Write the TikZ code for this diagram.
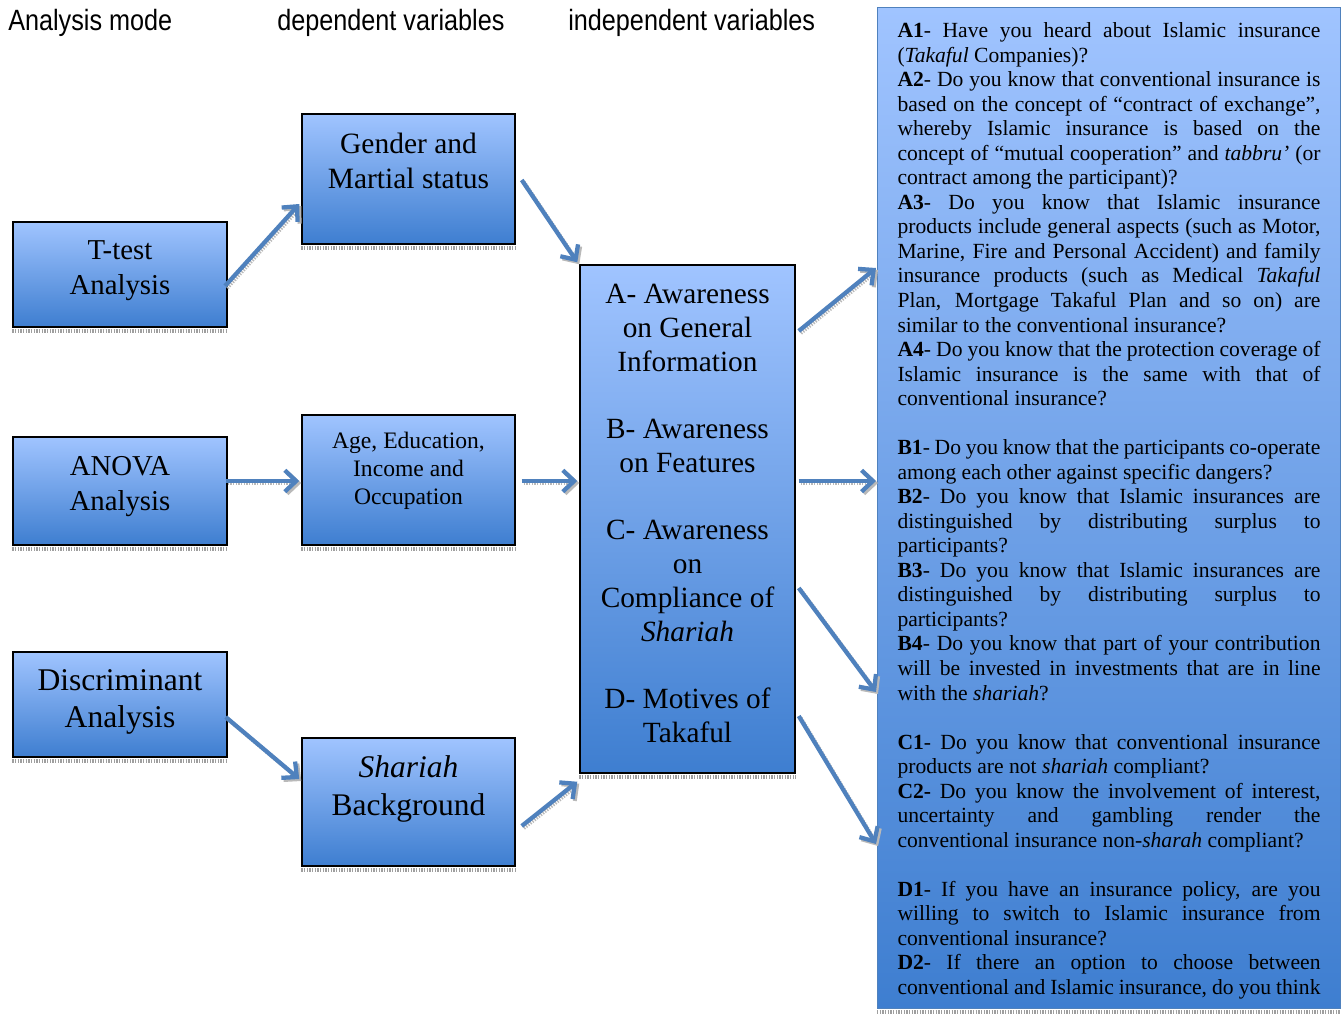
\documentclass[tikz,border=0pt]{standalone}
\usepackage{fontspec}
\setmainfont{Liberation Serif}
\newfontfamily\headfont{Liberation Sans}[FakeStretch=0.86]
\definecolor{BoxTop}{HTML}{A0C4FF}
\definecolor{BoxBottom}{HTML}{3E7ED0}
\definecolor{ArrowBlue}{HTML}{4F81BD}
\usetikzlibrary{arrows.meta}

\begin{document}
\begin{tikzpicture}[
  x=0.75pt, y=-0.75pt,
  head/.style={font=\headfont\fontsize{22}{26}\selectfont, anchor=base west, inner sep=0pt},
  bluebox/.style={
    rectangle, draw=black, line width=1.1pt,
    top color=BoxTop, bottom color=BoxBottom,
    align=center, inner sep=0pt
  },
  modebox/.style={bluebox, minimum width=160.5pt, minimum height=79pt},
  depbox/.style={bluebox, minimum width=159.75pt, minimum height=97.5pt},
  indbox/.style={bluebox, minimum width=161.25pt, minimum height=381pt},
  lift/.style={execute at begin node=\strut, execute at end node={\rule[-#1]{0pt}{0pt}}},
  infobox/.style={
    rectangle, draw=ArrowBlue, line width=0.8pt,
    top color=BoxTop, bottom color=BoxBottom,
    anchor=north west, text width=317.25pt, align=justify,
    inner xsep=15pt, inner ysep=7pt, minimum height=750.75pt,
    font=\fontsize{16.2}{18.4}\selectfont,
    execute at begin node={\parindent=0pt\tolerance=10000\hbadness=10000\hyphenpenalty=10000\rule{0pt}{15.5pt}}
  },
  boxshadow/.style={draw=gray!75, line width=3pt, dash pattern=on 1pt off 1pt},
  arr/.style={
    draw=ArrowBlue, line width=3.2pt, -{Straight Barb[length=8.5pt, width=16pt]},
    preaction={draw=gray!55, line width=3pt, dash pattern=on 1pt off 1pt,
      transform canvas={shift={(1.5pt,-1.5pt)}}}
  },
]
\useasboundingbox (0,0) rectangle (1341,1013);

% column heads
\node[head] (hmode) at (8,31) {Analysis mode};
\node[head] (hdep)  at (277,31) {dependent variables};
\node[head] (hind)  at (568,31) {independent variables};

% analysis mode
\node[modebox, font=\fontsize{21.6}{26.25}\selectfont, lift=10.4pt] (ttest) at (120,274.5) {T-test\\Analysis};
\node[modebox, minimum height=81pt, font=\fontsize{21.6}{26.25}\selectfont, lift=10.8pt] (anova) at (120,491) {ANOVA\\Analysis};
\node[modebox, font=\fontsize{23.7}{27.75}\selectfont, lift=7pt] (disc) at (120,704.5) {Discriminant\\Analysis};

% dependent variables
\node[depbox, font=\fontsize{22.1}{26.25}\selectfont, lift=27pt] (gender) at (408.5,179) {Gender and\\Martial status};
\node[depbox, font=\fontsize{17.7}{21}\selectfont, lift=17.1pt] (age) at (408.5,480) {Age, Education,\\Income and\\Occupation};
\node[depbox, minimum height=96pt, font=\fontsize{23.6}{28.5}\selectfont, lift=24.1pt] (shariah) at (408.5,802) {\textit{Shariah}\\Background};

% independent variables
\node[indbox, font=\fontsize{22}{25.3}\selectfont, lift=8.4pt] (aware) at (687.5,519)
  {A- Awareness\\on General\\Information\\[25.3pt]B- Awareness\\on Features\\[25.3pt]C- Awareness\\on\\Compliance of\\\textit{Shariah}\\[25.3pt]D- Motives of\\Takaful};

% questions
\node[infobox] (quest) at (877,7) {%
\textbf{A1}- Have you heard about Islamic insurance\linebreak
(\textit{Takaful} Companies)?\par
\textbf{A2}- Do you know that conventional insurance is\linebreak
based on the concept of “contract of exchange”,\linebreak
whereby Islamic insurance is based on the\linebreak
concept of “mutual cooperation” and \textit{tabbru’} (or\linebreak
contract among the participant)?\par
\textbf{A3}- Do you know that Islamic insurance\linebreak
products include general aspects (such as Motor,\linebreak
Marine, Fire and Personal Accident) and family\linebreak
insurance products (such as Medical \textit{Takaful}\linebreak
Plan, Mortgage Takaful Plan and so on) are\linebreak
similar to the conventional insurance?\par
\textbf{A4}- Do you know that the protection coverage of\linebreak
Islamic insurance is the same with that of\linebreak
conventional insurance?\par
\vspace{\baselineskip}
\textbf{B1}- Do you know that the participants co-operate\linebreak
among each other against specific dangers?\par
\textbf{B2}- Do you know that Islamic insurances are\linebreak
distinguished by distributing surplus to\linebreak
participants?\par
\textbf{B3}- Do you know that Islamic insurances are\linebreak
distinguished by distributing surplus to\linebreak
participants?\par
\textbf{B4}- Do you know that part of your contribution\linebreak
will be invested in investments that are in line\linebreak
with the \textit{shariah}?\par
\vspace{\baselineskip}
\textbf{C1}- Do you know that conventional insurance\linebreak
products are not \textit{shariah} compliant?\par
\textbf{C2-} Do you know the involvement of interest,\linebreak
uncertainty and gambling render the\linebreak
conventional insurance non-\textit{sharah} compliant?\par
\vspace{\baselineskip}
\textbf{D1}- If you have an insurance policy, are you\linebreak
willing to switch to Islamic insurance from\linebreak
conventional insurance?\par
\textbf{D2}- If there an option to choose between\linebreak
conventional and Islamic insurance, do you think\rule[-3.5pt]{0pt}{0pt}{\parfillskip=0pt\par}};

% dotted shadows under the boxes
\foreach \b in {ttest,anova,disc,gender,age,shariah,aware,quest}
  \draw[boxshadow] ([yshift=-2.1pt]\b.south west) -- ([yshift=-2.1pt]\b.south east);

\draw[arr] ([xshift=-2pt, yshift=-8.6pt]ttest.east) -- ([xshift=-1.5pt, yshift=-18.75pt]gender.west);
\draw[arr] ([xshift=4.5pt, yshift=-0.75pt]gender.east) -- ([xshift=-1.5pt, yshift=1.5pt]aware.north west);
\draw[arr] ([xshift=-1.5pt, yshift=7.5pt]anova.east) -- ([xshift=-1.5pt, yshift=-0.75pt]age.west);
\draw[arr] ([xshift=4.5pt, yshift=-0.75pt]age.east) -- ([xshift=-1.5pt, yshift=28.5pt]aware.west);
\draw[arr] ([xshift=-1.5pt, yshift=-9.4pt]disc.east) -- ([xshift=-1.5pt, yshift=17.25pt]shariah.west);
\draw[arr] ([xshift=4.5pt, yshift=-18pt]shariah.east) -- ([xshift=-1.5pt, yshift=-6pt]aware.south west);

\draw[arr] ([xshift=2.25pt, yshift=141pt]aware.east) -- ([xshift=-0.75pt, yshift=-195.75pt]quest.north west);
\draw[arr] ([xshift=2.25pt, yshift=28.5pt]aware.east) -- ([xshift=-0.75pt, yshift=-355.5pt]quest.north west);
\draw[arr] ([xshift=2.25pt, yshift=-51.75pt]aware.east) -- ([xshift=-0.75pt, yshift=-513.75pt]quest.north west);
\draw[arr] ([xshift=2.25pt, yshift=-147.75pt]aware.east) -- ([xshift=-0.75pt, yshift=-627.75pt]quest.north west);

\end{tikzpicture}
\end{document}
